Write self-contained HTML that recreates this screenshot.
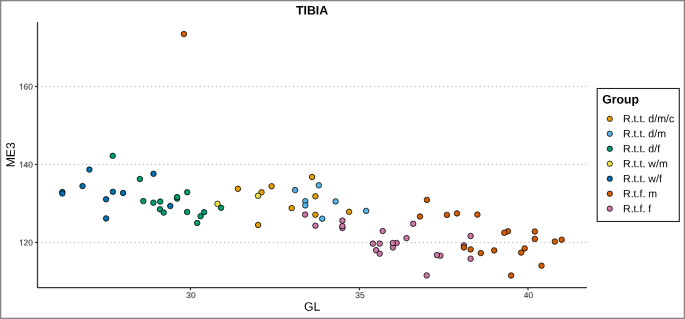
<!DOCTYPE html><html><head><meta charset="utf-8"><style>html,body{margin:0;padding:0;background:#fff;overflow:hidden;width:685px;height:319px;}svg{display:block;will-change:transform;}text{font-family:"Liberation Sans",sans-serif;text-rendering:geometricPrecision;}</style></head><body>
<svg width="685" height="319" viewBox="0 0 685 319">
<rect x="0" y="0" width="685" height="319" fill="#fff"/>
<rect x="0.65" y="0.65" width="683.7" height="317.7" fill="none" stroke="#858585" stroke-width="1.3"/>
<line x1="37.91" y1="86.46" x2="587.0" y2="86.46" stroke="#bebebe" stroke-width="1.35" stroke-linecap="round" stroke-dasharray="0.01 4.0480"/>
<line x1="37.91" y1="164.46" x2="587.0" y2="164.46" stroke="#bebebe" stroke-width="1.35" stroke-linecap="round" stroke-dasharray="0.01 4.0480"/>
<line x1="37.91" y1="242.46" x2="587.0" y2="242.46" stroke="#bebebe" stroke-width="1.35" stroke-linecap="round" stroke-dasharray="0.01 4.0480"/>
<circle cx="89.4" cy="169.6" r="2.75" fill="#0072B2" stroke="#000" stroke-width="0.75"/>
<circle cx="82.5" cy="186.1" r="2.75" fill="#0072B2" stroke="#000" stroke-width="0.75"/>
<circle cx="62.3" cy="192.0" r="2.75" fill="#0072B2" stroke="#000" stroke-width="0.75"/>
<circle cx="62.3" cy="193.5" r="2.75" fill="#0072B2" stroke="#000" stroke-width="0.75"/>
<circle cx="112.9" cy="191.8" r="2.75" fill="#0072B2" stroke="#000" stroke-width="0.75"/>
<circle cx="123.1" cy="193.0" r="2.75" fill="#0072B2" stroke="#000" stroke-width="0.75"/>
<circle cx="106.1" cy="199.3" r="2.75" fill="#0072B2" stroke="#000" stroke-width="0.75"/>
<circle cx="106.1" cy="218.4" r="2.75" fill="#0072B2" stroke="#000" stroke-width="0.75"/>
<circle cx="153.5" cy="173.8" r="2.75" fill="#0072B2" stroke="#000" stroke-width="0.75"/>
<circle cx="170.3" cy="206.0" r="2.75" fill="#0072B2" stroke="#000" stroke-width="0.75"/>
<circle cx="177.1" cy="198.6" r="2.75" fill="#009E73" stroke="#000" stroke-width="0.75"/>
<circle cx="112.7" cy="155.8" r="2.75" fill="#009E73" stroke="#000" stroke-width="0.75"/>
<circle cx="139.9" cy="179.0" r="2.75" fill="#009E73" stroke="#000" stroke-width="0.75"/>
<circle cx="187.2" cy="192.2" r="2.75" fill="#009E73" stroke="#000" stroke-width="0.75"/>
<circle cx="143.3" cy="201.1" r="2.75" fill="#009E73" stroke="#000" stroke-width="0.75"/>
<circle cx="153.4" cy="202.7" r="2.75" fill="#009E73" stroke="#000" stroke-width="0.75"/>
<circle cx="160.2" cy="201.6" r="2.75" fill="#009E73" stroke="#000" stroke-width="0.75"/>
<circle cx="160.0" cy="209.3" r="2.75" fill="#009E73" stroke="#000" stroke-width="0.75"/>
<circle cx="163.7" cy="212.6" r="2.75" fill="#009E73" stroke="#000" stroke-width="0.75"/>
<circle cx="177.1" cy="197.1" r="2.75" fill="#009E73" stroke="#000" stroke-width="0.75"/>
<circle cx="187.1" cy="212.0" r="2.75" fill="#009E73" stroke="#000" stroke-width="0.75"/>
<circle cx="204.1" cy="212.2" r="2.75" fill="#009E73" stroke="#000" stroke-width="0.75"/>
<circle cx="200.6" cy="216.2" r="2.75" fill="#009E73" stroke="#000" stroke-width="0.75"/>
<circle cx="197.2" cy="223.0" r="2.75" fill="#009E73" stroke="#000" stroke-width="0.75"/>
<circle cx="217.5" cy="203.8" r="2.75" fill="#F0E442" stroke="#000" stroke-width="0.75"/>
<circle cx="221.1" cy="207.8" r="2.75" fill="#009E73" stroke="#000" stroke-width="0.75"/>
<circle cx="237.9" cy="188.8" r="2.75" fill="#E69F00" stroke="#000" stroke-width="0.75"/>
<circle cx="261.5" cy="192.3" r="2.75" fill="#E69F00" stroke="#000" stroke-width="0.75"/>
<circle cx="271.6" cy="186.2" r="2.75" fill="#E69F00" stroke="#000" stroke-width="0.75"/>
<circle cx="312.1" cy="177.0" r="2.75" fill="#E69F00" stroke="#000" stroke-width="0.75"/>
<circle cx="315.4" cy="196.3" r="2.75" fill="#E69F00" stroke="#000" stroke-width="0.75"/>
<circle cx="291.7" cy="208.1" r="2.75" fill="#E69F00" stroke="#000" stroke-width="0.75"/>
<circle cx="315.4" cy="214.8" r="2.75" fill="#E69F00" stroke="#000" stroke-width="0.75"/>
<circle cx="349.1" cy="211.8" r="2.75" fill="#E69F00" stroke="#000" stroke-width="0.75"/>
<circle cx="258.1" cy="225.0" r="2.75" fill="#E69F00" stroke="#000" stroke-width="0.75"/>
<circle cx="258.0" cy="195.8" r="2.75" fill="#F0E442" stroke="#000" stroke-width="0.75"/>
<circle cx="295.1" cy="190.1" r="2.75" fill="#56B4E9" stroke="#000" stroke-width="0.75"/>
<circle cx="318.8" cy="185.3" r="2.75" fill="#56B4E9" stroke="#000" stroke-width="0.75"/>
<circle cx="305.3" cy="201.2" r="2.75" fill="#56B4E9" stroke="#000" stroke-width="0.75"/>
<circle cx="305.3" cy="205.4" r="2.75" fill="#56B4E9" stroke="#000" stroke-width="0.75"/>
<circle cx="322.2" cy="218.7" r="2.75" fill="#56B4E9" stroke="#000" stroke-width="0.75"/>
<circle cx="335.6" cy="201.4" r="2.75" fill="#56B4E9" stroke="#000" stroke-width="0.75"/>
<circle cx="366.1" cy="210.9" r="2.75" fill="#56B4E9" stroke="#000" stroke-width="0.75"/>
<circle cx="305.1" cy="214.6" r="2.75" fill="#CC79A7" stroke="#000" stroke-width="0.75"/>
<circle cx="315.4" cy="225.7" r="2.75" fill="#CC79A7" stroke="#000" stroke-width="0.75"/>
<circle cx="342.4" cy="228.0" r="2.75" fill="#CC79A7" stroke="#000" stroke-width="0.75"/>
<circle cx="342.4" cy="226.1" r="2.75" fill="#CC79A7" stroke="#000" stroke-width="0.75"/>
<circle cx="342.4" cy="220.6" r="2.75" fill="#CC79A7" stroke="#000" stroke-width="0.75"/>
<circle cx="382.7" cy="231.0" r="2.75" fill="#CC79A7" stroke="#000" stroke-width="0.75"/>
<circle cx="372.9" cy="243.6" r="2.75" fill="#CC79A7" stroke="#000" stroke-width="0.75"/>
<circle cx="379.7" cy="243.6" r="2.75" fill="#CC79A7" stroke="#000" stroke-width="0.75"/>
<circle cx="376.1" cy="250.2" r="2.75" fill="#CC79A7" stroke="#000" stroke-width="0.75"/>
<circle cx="379.7" cy="253.7" r="2.75" fill="#CC79A7" stroke="#000" stroke-width="0.75"/>
<circle cx="392.9" cy="247.5" r="2.75" fill="#CC79A7" stroke="#000" stroke-width="0.75"/>
<circle cx="396.6" cy="243.0" r="2.75" fill="#CC79A7" stroke="#000" stroke-width="0.75"/>
<circle cx="392.8" cy="243.0" r="2.75" fill="#CC79A7" stroke="#000" stroke-width="0.75"/>
<circle cx="406.5" cy="238.1" r="2.75" fill="#CC79A7" stroke="#000" stroke-width="0.75"/>
<circle cx="413.2" cy="223.8" r="2.75" fill="#CC79A7" stroke="#000" stroke-width="0.75"/>
<circle cx="440.4" cy="255.7" r="2.75" fill="#CC79A7" stroke="#000" stroke-width="0.75"/>
<circle cx="436.9" cy="255.1" r="2.75" fill="#CC79A7" stroke="#000" stroke-width="0.75"/>
<circle cx="426.7" cy="275.4" r="2.75" fill="#CC79A7" stroke="#000" stroke-width="0.75"/>
<circle cx="470.6" cy="236.0" r="2.75" fill="#CC79A7" stroke="#000" stroke-width="0.75"/>
<circle cx="463.9" cy="245.4" r="2.75" fill="#CC79A7" stroke="#000" stroke-width="0.75"/>
<circle cx="470.6" cy="258.7" r="2.75" fill="#CC79A7" stroke="#000" stroke-width="0.75"/>
<circle cx="183.9" cy="34.1" r="2.75" fill="#D55E00" stroke="#000" stroke-width="0.75"/>
<circle cx="426.9" cy="199.9" r="2.75" fill="#D55E00" stroke="#000" stroke-width="0.75"/>
<circle cx="420.0" cy="216.5" r="2.75" fill="#D55E00" stroke="#000" stroke-width="0.75"/>
<circle cx="446.9" cy="214.9" r="2.75" fill="#D55E00" stroke="#000" stroke-width="0.75"/>
<circle cx="457.0" cy="213.4" r="2.75" fill="#D55E00" stroke="#000" stroke-width="0.75"/>
<circle cx="477.4" cy="214.6" r="2.75" fill="#D55E00" stroke="#000" stroke-width="0.75"/>
<circle cx="463.9" cy="247.5" r="2.75" fill="#D55E00" stroke="#000" stroke-width="0.75"/>
<circle cx="470.6" cy="249.4" r="2.75" fill="#D55E00" stroke="#000" stroke-width="0.75"/>
<circle cx="480.8" cy="253.0" r="2.75" fill="#D55E00" stroke="#000" stroke-width="0.75"/>
<circle cx="494.2" cy="250.4" r="2.75" fill="#D55E00" stroke="#000" stroke-width="0.75"/>
<circle cx="507.9" cy="231.3" r="2.75" fill="#D55E00" stroke="#000" stroke-width="0.75"/>
<circle cx="504.3" cy="232.8" r="2.75" fill="#D55E00" stroke="#000" stroke-width="0.75"/>
<circle cx="534.8" cy="231.5" r="2.75" fill="#D55E00" stroke="#000" stroke-width="0.75"/>
<circle cx="534.8" cy="238.9" r="2.75" fill="#D55E00" stroke="#000" stroke-width="0.75"/>
<circle cx="524.7" cy="248.4" r="2.75" fill="#D55E00" stroke="#000" stroke-width="0.75"/>
<circle cx="521.2" cy="252.6" r="2.75" fill="#D55E00" stroke="#000" stroke-width="0.75"/>
<circle cx="541.5" cy="265.7" r="2.75" fill="#D55E00" stroke="#000" stroke-width="0.75"/>
<circle cx="511.1" cy="275.5" r="2.75" fill="#D55E00" stroke="#000" stroke-width="0.75"/>
<circle cx="554.8" cy="241.6" r="2.75" fill="#D55E00" stroke="#000" stroke-width="0.75"/>
<circle cx="561.7" cy="239.7" r="2.75" fill="#D55E00" stroke="#000" stroke-width="0.75"/>
<line x1="37.5" y1="22.0" x2="37.5" y2="288.0" stroke="#363636" stroke-width="1.25"/>
<line x1="37.0" y1="287.5" x2="587.0" y2="287.5" stroke="#363636" stroke-width="1.25"/>
<line x1="34.9" y1="86.46" x2="37.5" y2="86.46" stroke="#363636" stroke-width="1.25"/>
<path transform="translate(18.79,89.46) scale(0.00840,-0.00840)" fill="#4d4d4d" stroke="#4d4d4d" stroke-width="29.8" d="M373 0L285 0L285 560C264 540 236 520 211 505C186 490 164 479 140 470L140 550C180 570 210 592 240 622C270 652 298 686 313 716L373 716Z"/>
<text transform="rotate(0.03 32.80 89.46)" x="32.80" y="89.46" font-size="8.4" fill="#4d4d4d" text-anchor="end" stroke="#4d4d4d" stroke-width="0.18">60</text>
<line x1="34.9" y1="164.46" x2="37.5" y2="164.46" stroke="#363636" stroke-width="1.25"/>
<path transform="translate(18.79,167.46) scale(0.00840,-0.00840)" fill="#4d4d4d" stroke="#4d4d4d" stroke-width="29.8" d="M373 0L285 0L285 560C264 540 236 520 211 505C186 490 164 479 140 470L140 550C180 570 210 592 240 622C270 652 298 686 313 716L373 716Z"/>
<text transform="rotate(0.03 32.80 167.46)" x="32.80" y="167.46" font-size="8.4" fill="#4d4d4d" text-anchor="end" stroke="#4d4d4d" stroke-width="0.18">40</text>
<line x1="34.9" y1="242.46" x2="37.5" y2="242.46" stroke="#363636" stroke-width="1.25"/>
<path transform="translate(18.79,245.46) scale(0.00840,-0.00840)" fill="#4d4d4d" stroke="#4d4d4d" stroke-width="29.8" d="M373 0L285 0L285 560C264 540 236 520 211 505C186 490 164 479 140 470L140 550C180 570 210 592 240 622C270 652 298 686 313 716L373 716Z"/>
<text transform="rotate(0.03 32.80 245.46)" x="32.80" y="245.46" font-size="8.4" fill="#4d4d4d" text-anchor="end" stroke="#4d4d4d" stroke-width="0.18">20</text>
<line x1="190.45" y1="287.5" x2="190.45" y2="290.3" stroke="#363636" stroke-width="1.25"/>
<text transform="rotate(0.03 190.95 297.90)" x="190.95" y="297.90" font-size="8.4" fill="#4d4d4d" text-anchor="middle" stroke="#4d4d4d" stroke-width="0.18">30</text>
<line x1="359.4" y1="287.5" x2="359.4" y2="290.3" stroke="#363636" stroke-width="1.25"/>
<text transform="rotate(0.03 359.90 297.90)" x="359.90" y="297.90" font-size="8.4" fill="#4d4d4d" text-anchor="middle" stroke="#4d4d4d" stroke-width="0.18">35</text>
<line x1="528.0" y1="287.5" x2="528.0" y2="290.3" stroke="#363636" stroke-width="1.25"/>
<text transform="rotate(0.03 528.50 297.90)" x="528.50" y="297.90" font-size="8.4" fill="#4d4d4d" text-anchor="middle" stroke="#4d4d4d" stroke-width="0.18">40</text>
<text transform="rotate(0.03 312.10 14.45)" x="312.10" y="14.45" font-size="12.3" fill="#000" font-weight="bold" text-anchor="middle">TIBIA</text>
<text transform="rotate(0.03 312.10 310.70)" x="312.10" y="310.70" font-size="12.3" fill="#000" text-anchor="middle">GL</text>
<text transform="translate(14.7,154.8) rotate(-89.97)" x="0" y="0" font-size="12.2" fill="#000" text-anchor="middle">ME3</text>
<rect x="597.2" y="88.5" width="82.1" height="133" fill="#fff" stroke="#222" stroke-width="1.1"/>
<text transform="rotate(0.03 602.20 103.60)" x="602.20" y="103.60" font-size="12.3" fill="#000" font-weight="bold">Group</text>
<circle cx="609.8" cy="118.80" r="2.65" fill="#E69F00" stroke="#000" stroke-width="0.75"/>
<text transform="rotate(0.03 623.00 122.25)" x="623.00" y="122.25" font-size="10.6" fill="#000">R.t.t. d/m/c</text>
<circle cx="609.8" cy="133.78" r="2.65" fill="#56B4E9" stroke="#000" stroke-width="0.75"/>
<text transform="rotate(0.03 623.00 137.23)" x="623.00" y="137.23" font-size="10.6" fill="#000">R.t.t. d/m</text>
<circle cx="609.8" cy="148.76" r="2.65" fill="#009E73" stroke="#000" stroke-width="0.75"/>
<text transform="rotate(0.03 623.00 152.21)" x="623.00" y="152.21" font-size="10.6" fill="#000">R.t.t. d/f</text>
<circle cx="609.8" cy="163.74" r="2.65" fill="#F0E442" stroke="#000" stroke-width="0.75"/>
<text transform="rotate(0.03 623.00 167.19)" x="623.00" y="167.19" font-size="10.6" fill="#000">R.t.t. w/m</text>
<circle cx="609.8" cy="178.72" r="2.65" fill="#0072B2" stroke="#000" stroke-width="0.75"/>
<text transform="rotate(0.03 623.00 182.17)" x="623.00" y="182.17" font-size="10.6" fill="#000">R.t.t. w/f</text>
<circle cx="609.8" cy="193.70" r="2.65" fill="#D55E00" stroke="#000" stroke-width="0.75"/>
<text transform="rotate(0.03 623.00 197.15)" x="623.00" y="197.15" font-size="10.6" fill="#000">R.t.f. m</text>
<circle cx="609.8" cy="208.68" r="2.65" fill="#CC79A7" stroke="#000" stroke-width="0.75"/>
<text transform="rotate(0.03 623.00 212.13)" x="623.00" y="212.13" font-size="10.6" fill="#000">R.t.f. f</text>
</svg></body></html>
